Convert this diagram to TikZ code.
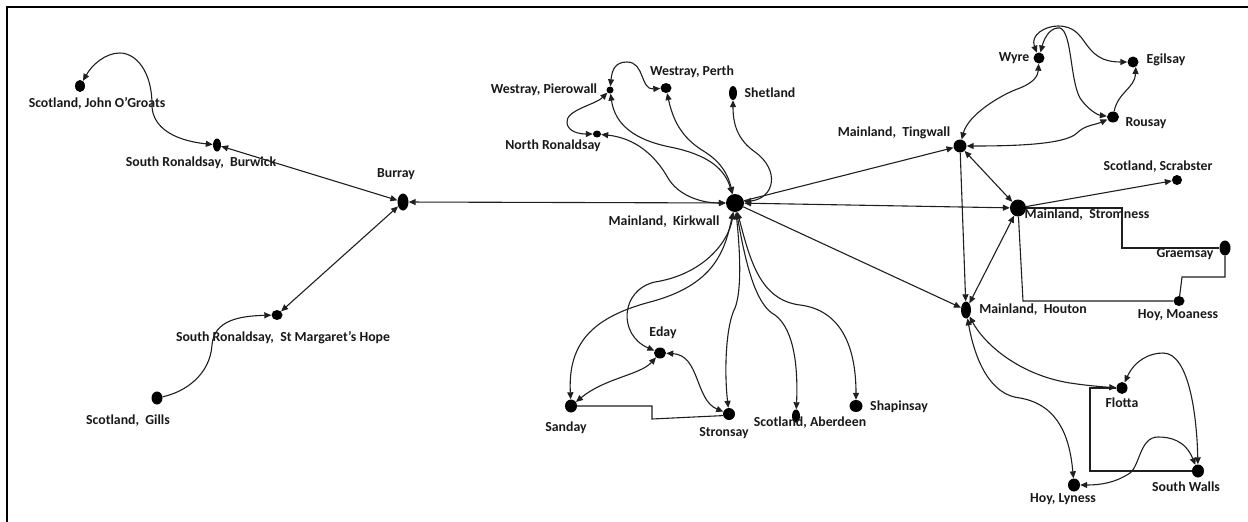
\documentclass[tikz,border=0pt]{standalone}
\usepackage{fontspec}
\setmainfont{Carlito}
\usetikzlibrary{arrows.meta,shapes.geometric}
\begin{document}
\begin{tikzpicture}[x=1pt,y=-1pt,
  dt/.style 2 args={ellipse,fill=black,draw=none,inner sep=0pt,minimum width=#1,minimum height=#2},
  lbl/.style={font=\bfseries\fontsize{13.8}{15}\selectfont,inner sep=0pt,text=black!90},
  edge/.style={line width=1.1pt,draw=black!88},
  >={Triangle[length=7pt,width=6pt]}]
\useasboundingbox (0,0) rectangle (1248,522);
\draw[line width=2.5pt] (1248,7) -- (7,7) -- (7,522);

% ---- dots ----
\node[dt={10pt}{12pt}] (jog) at (80,86) {};
\node[dt={8pt}{13pt}] (burwick) at (217,145) {};
\node[dt={11pt}{17pt}] (burray) at (403,202) {};
\node[dt={11pt}{10pt}] (smh) at (277,315) {};
\node[dt={11pt}{13pt}] (gills) at (157,398) {};
\node[dt={18pt}{18pt}] (kirk) at (735,203) {};
\node[dt={7pt}{7pt}] (pw) at (610,90) {};
\node[dt={11pt}{10pt}] (perth) at (666,88) {};
\node[dt={8pt}{14pt}] (shet) at (733,93) {};
\node[dt={8pt}{7pt}] (nr) at (597,134) {};
\node[dt={11pt}{11pt}] (wyre) at (1039,58) {};
\node[dt={11pt}{11pt}] (egil) at (1133,62) {};
\node[dt={12pt}{11pt}] (rousay) at (1113,117) {};
\node[dt={13pt}{13pt}] (ting) at (960,146) {};
\node[dt={10pt}{10pt}] (scrab) at (1177,180) {};
\node[dt={16pt}{17pt}] (strom) at (1018,208) {};
\node[dt={11pt}{15pt}] (graem) at (1225,248) {};
\node[dt={11pt}{10pt}] (moan) at (1179,301) {};
\node[dt={10pt}{17pt}] (houton) at (966,310) {};
\node[dt={11pt}{12pt}] (flotta) at (1122,388) {};
\node[dt={12pt}{13pt}] (swalls) at (1198,471) {};
\node[dt={12pt}{13pt}] (lyness) at (1074,485) {};
\node[dt={12pt}{11pt}] (eday) at (660,353) {};
\node[dt={12pt}{13pt}] (sanday) at (571,406) {};
\node[dt={12pt}{12pt}] (stron) at (729,414) {};
\node[dt={8pt}{13pt}] (aber) at (796,416) {};
\node[dt={13pt}{12pt}] (shap) at (856,406) {};

% ---- labels ----
\node[lbl] (l-jog) at (97,103) {Scotland, John O’Groats};
\node[lbl] (l-burwick) at (201,163) {South Ronaldsay,\ \ Burwick};
\node[lbl] (l-burray) at (396,174) {Burray};
\node[lbl] (l-smh) at (283,338) {South Ronaldsay,\ \ St Margaret’s Hope};
\node[lbl] (l-gills) at (128,421) {Scotland,\ \ Gills};
\node[lbl] (l-kirk) at (664,222) {Mainland,\ \ Kirkwall};
\node[lbl] (l-pw) at (544,90) {Westray, Pierowall};
\node[lbl] (l-perth) at (692,72) {Westray, Perth};
\node[lbl] (l-shet) at (770,93) {Shetland};
\node[lbl] (l-nr) at (553,146) {North Ronaldsay};
\node[lbl] (l-wyre) at (1014,58) {Wyre};
\node[lbl] (l-egil) at (1166,60) {Egilsay};
\node[lbl] (l-rousay) at (1146,123) {Rousay};
\node[lbl] (l-ting) at (894,133) {Mainland,\ \ Tingwall};
\node[lbl] (l-scrab) at (1158,167) {Scotland, Scrabster};
\node[lbl] (l-strom) at (1087,215) {Mainland,\ \ Stromness};
\node[lbl] (l-graem) at (1185,254) {Graemsay};
\node[lbl] (l-moan) at (1178,315) {Hoy, Moaness};
\node[lbl] (l-houton) at (1033,310) {Mainland,\ \ Houton};
\node[lbl] (l-flotta) at (1122,403) {Flotta};
\node[lbl] (l-swalls) at (1186,487) {South Walls};
\node[lbl] (l-lyness) at (1063,499) {Hoy, Lyness};
\node[lbl] (l-eday) at (663,333) {Eday};
\node[lbl] (l-sanday) at (566,428) {Sanday};
\node[lbl] (l-stron) at (724,433) {Stronsay};
\node[lbl] (l-aber) at (810,423) {Scotland, Aberdeen};
\node[lbl] (l-shap) at (899,407) {Shapinsay};

% ---- connectors: left group ----
\draw[edge,<->] (burwick) .. controls (170,140) and (152,125) .. (152,105)
  .. controls (152,70) and (135,53) .. (120,53) .. controls (105,53) and (92,65) .. (jog);
\draw[edge,<->] (burwick) -- (burray);
\draw[edge,<->] (burray) -- (smh);
\draw[edge,->] (gills) .. controls (185,392) and (210,375) .. (212,345)
  .. controls (214,320) and (240,316) .. (smh);
\draw[edge,<->] (burray) -- (kirk);

% ---- Kirkwall north ----
\draw[edge,<->] (nr) .. controls (635,138) and (655,155) .. (668,178)
  .. controls (678,195) and (700,203) .. (kirk);
\draw[edge,<->] (pw) .. controls (615,125) and (635,140) .. (670,147)
  .. controls (710,155) and (725,170) .. (kirk);
\draw[edge,<->] (perth) .. controls (674,125) and (685,140) .. (705,152)
  .. controls (722,163) and (728,175) .. (kirk);
\draw[edge,<->] (shet) .. controls (733,125) and (738,140) .. (755,152)
  .. controls (780,170) and (775,198) .. (kirk);
\draw[edge,<->] (pw) .. controls (595,105) and (565,110) .. (567,123)
  .. controls (568,132) and (580,134) .. (nr);
\draw[edge,<->] (pw) .. controls (612,70) and (615,62) .. (627,62)
  .. controls (645,62) and (640,90) .. (perth);

% ---- Kirkwall south ----
\draw[edge,<->] (kirk) .. controls (725,250) and (715,285) .. (650,302)
  .. controls (590,318) and (568,345) .. (sanday);
\draw[edge,<->] (kirk) .. controls (728,245) and (700,275) .. (655,282)
  .. controls (620,290) and (618,335) .. (eday);
\draw[edge,<->] (kirk) .. controls (740,250) and (742,290) .. (735,308)
  .. controls (726,325) and (724,370) .. (stron);
\draw[edge,<->] (kirk) .. controls (745,260) and (755,305) .. (775,315)
  .. controls (795,330) and (798,370) .. (aber);
\draw[edge,<->] (kirk) .. controls (750,260) and (760,300) .. (800,305)
  .. controls (840,310) and (856,345) .. (shap);
\draw[edge,<->] (eday) .. controls (640,375) and (605,378) .. (sanday);
\draw[edge,<->] (eday) .. controls (700,355) and (695,400) .. (stron);
\draw[edge] (sanday) -- (652,406) -- (652,419) -- (stron.-165);

% ---- Kirkwall east ----
\draw[edge,->] (kirk) -- (ting);
\draw[edge,<->] (kirk) -- (strom);
\draw[edge,->] (kirk) -- (houton);

% ---- north isles east ----
\draw[edge,<->] (ting) .. controls (968,115) and (1000,95) .. (1020,88)
  .. controls (1035,82) and (1038,75) .. (wyre);
\draw[edge,<->] (ting) .. controls (1010,146) and (1065,145) .. (1077,133)
  .. controls (1085,125) and (1095,125) .. (rousay);
\draw[edge,<->] (wyre) .. controls (1030,35) and (1045,26) .. (1058,26)
  .. controls (1090,26) and (1080,62) .. (egil);
\draw[edge,<->] (wyre) .. controls (1045,35) and (1052,27) .. (1060,28)
  .. controls (1072,32) and (1070,80) .. (1080,98)
  .. controls (1088,110) and (1098,115) .. (rousay);
\draw[edge,->] (rousay) .. controls (1118,92) and (1135,88) .. (egil.-60);

% ---- west mainland / hoy ----
\draw[edge,<->] (ting) -- (strom);
\draw[edge,->] (ting) -- (houton);
\draw[edge,->] (strom) -- (scrab);
\draw[edge] (strom) -- (1122,208) -- (1122,248) -- (graem);
\draw[edge] (graem) -- (1225,277) -- (1182,277) -- (moan);
\draw[edge] (strom) -- (1023,301) -- (moan);
\draw[edge,<->] (houton) -- (strom);
\draw[edge,<->] (houton) .. controls (985,345) and (1020,375) .. (1070,383)
  .. controls (1090,386) and (1105,387) .. (flotta);
\draw[edge,<->] (houton) .. controls (975,360) and (990,395) .. (1020,398)
  .. controls (1060,405) and (1070,440) .. (lyness);
\draw[edge,<->] (flotta) .. controls (1135,360) and (1150,353) .. (1163,353)
  .. controls (1190,353) and (1197,420) .. (swalls);
\draw[edge,<->] (swalls) .. controls (1185,440) and (1170,437) .. (1158,437)
  .. controls (1140,437) and (1140,465) .. (1130,473)
  .. controls (1115,483) and (1100,485) .. (lyness);
\draw[edge] (flotta) -- (1090,388) -- (1090,471) -- (swalls);
\end{tikzpicture}
\end{document}
